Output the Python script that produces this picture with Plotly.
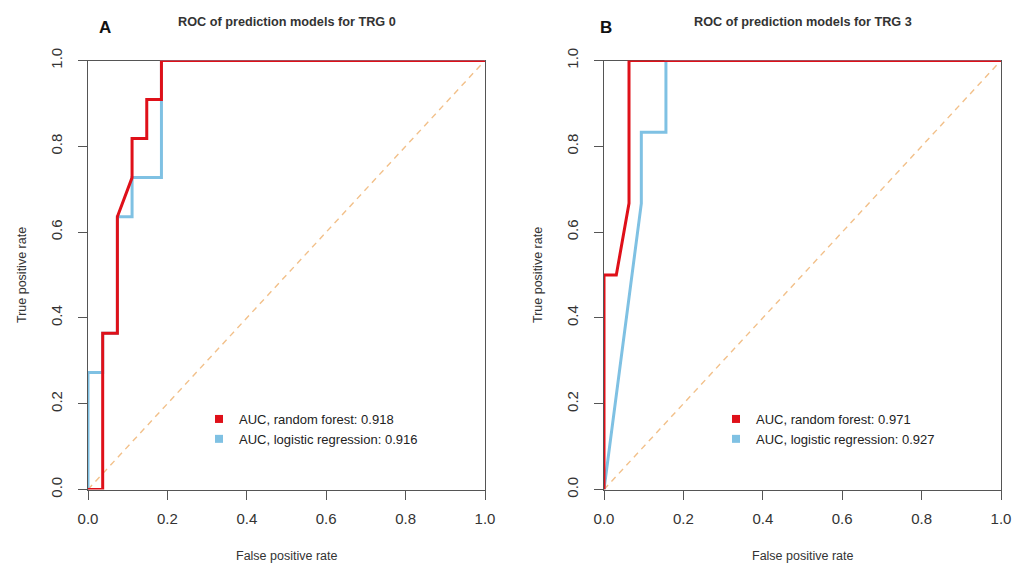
import plotly.graph_objects as go

# ---- data ----
# Panel A : TRG 0
a_rf_fpr = [0.0, 0.037, 0.037, 0.074, 0.074, 0.111, 0.111, 0.148, 0.148, 0.185, 0.185, 1.0]
a_rf_tpr = [0.0, 0.0, 0.364, 0.364, 0.636, 0.727, 0.818, 0.818, 0.909, 0.909, 1.0, 1.0]
a_lr_fpr = [0.0, 0.0, 0.037, 0.037, 0.074, 0.074, 0.111, 0.111, 0.185, 0.185, 1.0]
a_lr_tpr = [0.0, 0.273, 0.273, 0.364, 0.364, 0.636, 0.636, 0.727, 0.727, 1.0, 1.0]
a_auc = {"rf": 0.918, "lr": 0.916}

# Panel B : TRG 3
b_rf_fpr = [0.0, 0.0, 0.031, 0.063, 0.063, 1.0]
b_rf_tpr = [0.0, 0.5, 0.5, 0.667, 1.0, 1.0]
b_lr_fpr = [0.0, 0.094, 0.094, 0.156, 0.156, 1.0]
b_lr_tpr = [0.0, 0.667, 0.833, 0.833, 1.0, 1.0]
b_auc = {"rf": 0.971, "lr": 0.927}

diag = [0.0, 1.0]
tick_vals = [0.0, 0.2, 0.4, 0.6, 0.8, 1.0]
tick_text = ["0.0", "0.2", "0.4", "0.6", "0.8", "1.0"]

titles = ["ROC of prediction models for TRG 0", "ROC of prediction models for TRG 3"]
letters = ["A", "B"]

RED = "#DF1019"
BLUE = "#7FC1E3"
ORANGE = "#F2C08A"
FONT = "Liberation Sans, Arial, sans-serif"

# the page body adds an 8px margin, so the figure is drawn 8px smaller
OFF = 8
W, H = 1020 - OFF, 565 - OFF


def px(x):
    return (x - OFF) / W


def py(y):
    return 1 - (y - OFF) / H


fig = go.Figure()

panels = [
    (a_rf_fpr, a_rf_tpr, a_lr_fpr, a_lr_tpr, a_auc, "x", "y", "legend"),
    (b_rf_fpr, b_rf_tpr, b_lr_fpr, b_lr_tpr, b_auc, "x2", "y2", "legend2"),
]
for rf_x, rf_y, lr_x, lr_y, auc, xa, ya, lg in panels:
    fig.add_trace(go.Scatter(x=diag, y=diag, mode="lines", xaxis=xa, yaxis=ya,
                             line=dict(color=ORANGE, width=1.4, dash="6px,5px"),
                             showlegend=False, hoverinfo="skip"))
    fig.add_trace(go.Scatter(x=lr_x, y=lr_y, mode="lines", xaxis=xa, yaxis=ya,
                             line=dict(color=BLUE, width=3), showlegend=False))
    fig.add_trace(go.Scatter(x=rf_x, y=rf_y, mode="lines", xaxis=xa, yaxis=ya,
                             line=dict(color=RED, width=3), showlegend=False))
    # legend entries (filled squares)
    fig.add_trace(go.Scatter(x=[None], y=[None], mode="markers", xaxis=xa, yaxis=ya,
                             marker=dict(symbol="square", size=8, color=RED),
                             name=f"AUC, random forest: {auc['rf']:.3f}", legend=lg))
    fig.add_trace(go.Scatter(x=[None], y=[None], mode="markers", xaxis=xa, yaxis=ya,
                             marker=dict(symbol="square", size=8, color=BLUE),
                             name=f"AUC, logistic regression: {auc['lr']:.3f}", legend=lg))

axis_common = dict(range=[0, 1], showgrid=False, zeroline=False, showline=True,
                   linecolor="#555555", linewidth=1.3, mirror=True,
                   ticks="outside", ticklen=9, tickwidth=1.3, tickcolor="#555555",
                   tickvals=tick_vals, ticktext=tick_text,
                   tickfont=dict(family=FONT, size=15, color="#333333"),
                   layer="below traces", fixedrange=True, automargin=False)

ydom = [py(489.5), py(60.5)]
x1dom = [px(88), px(485)]
x2dom = [px(604), px(1001)]

leg_common = dict(xanchor="left", yanchor="top", bgcolor="rgba(0,0,0,0)",
                  borderwidth=0, tracegroupgap=0,
                  font=dict(family=FONT, size=13, color="#222222"))

fig.update_layout(
    width=W, height=H, margin=dict(l=0, r=0, t=0, b=0, autoexpand=False),
    paper_bgcolor="white", plot_bgcolor="white",
    showlegend=True,
    xaxis=dict(domain=x1dom, anchor="y", ticklabelstandoff=6, **axis_common),
    yaxis=dict(domain=ydom, anchor="x", tickangle=-90, ticklabelstandoff=10, **axis_common),
    xaxis2=dict(domain=x2dom, anchor="y2", ticklabelstandoff=6, **axis_common),
    yaxis2=dict(domain=ydom, anchor="x2", tickangle=-90, ticklabelstandoff=10, **axis_common),
    legend=dict(x=px(239 - 40), y=py(404), **leg_common),
    legend2=dict(x=px(756 - 40), y=py(404), **leg_common),
)

annotations = []
for i, (xd, title, letter) in enumerate(zip([x1dom, x2dom], titles, letters)):
    cx = (xd[0] + xd[1]) / 2
    annotations.append(dict(x=cx, y=py(21.5), xref="paper", yref="paper",
                            text=f"<b>{title}</b>", showarrow=False,
                            font=dict(family=FONT, size=12.7, color="#333333"),
                            xanchor="center", yanchor="middle"))
    annotations.append(dict(x=cx, y=py(556), xref="paper", yref="paper",
                            text="False positive rate", showarrow=False,
                            font=dict(family=FONT, size=12.5, color="#333333"),
                            xanchor="center", yanchor="middle"))
    annotations.append(dict(x=xd[0] - 66 / W, y=(ydom[0] + ydom[1]) / 2, xref="paper", yref="paper",
                            text="True positive rate", showarrow=False, textangle=-90,
                            font=dict(family=FONT, size=12.5, color="#333333"),
                            xanchor="center", yanchor="middle"))
    annotations.append(dict(x=px(104.5 if i == 0 else 606), y=py(27), xref="paper", yref="paper",
                            text=f"<b>{letter}</b>", showarrow=False,
                            font=dict(family=FONT, size=17, color="#111111"),
                            xanchor="center", yanchor="middle"))
fig.update_layout(annotations=annotations)

fig.write_html("out.html")
